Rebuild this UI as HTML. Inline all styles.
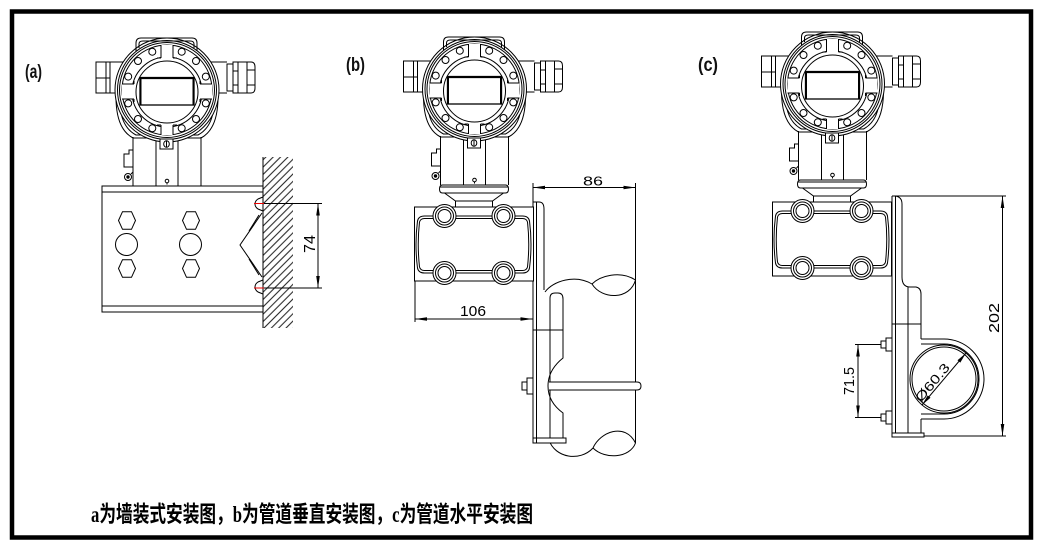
<!DOCTYPE html>
<html><head><meta charset="utf-8"><style>
html,body{margin:0;padding:0;background:#fff;}
svg{display:block;}
</style></head><body>
<svg width="1042" height="549" viewBox="0 0 1042 549" xmlns="http://www.w3.org/2000/svg">
<defs>
<pattern id="hatch" width="5.2" height="10" patternUnits="userSpaceOnUse" patternTransform="rotate(45)">
<line x1="2.6" y1="0" x2="2.6" y2="10" stroke="#000" stroke-width="0.9"/>
</pattern>
<g id="hd" fill="none" stroke="#000" stroke-width="1">
  <rect x="-71" y="-30" width="14" height="31" fill="#fff"/>
  <line x1="-71" y1="-14" x2="-57" y2="-14"/>
  <line x1="-61" y1="-30" x2="-61" y2="1"/>
  <line x1="-57" y1="-30" x2="-43" y2="-30"/>
  <line x1="-57" y1="1" x2="-43" y2="1"/>
  <line x1="43" y1="-30" x2="60" y2="-30"/>
  <line x1="43" y1="1" x2="60" y2="1"/>
  <rect x="60" y="-28" width="6" height="27" fill="#fff"/>
  <path d="M66,-30 H84 Q88,-30 88,-25 V-4 Q88,1 84,1 H66 Z" fill="#fff"/>
  <path d="M71,-30 V1 M80,-30 V1 M66,-21 H71 M66,-7 H71 M80,-22 H88 M80,-7 H88"/>
  <path d="M-51,5 Q-51,37 -34,46 H34 Q51,37 51,5" fill="#fff"/>
  <path d="M-47,12 Q-46,35 -31,43 H31 Q46,35 47,12"/>
  <circle cx="0" cy="-2" r="52" fill="#fff"/>
  <circle cx="0" cy="-2" r="49.5"/>
  <circle cx="0" cy="-2" r="47.5"/>
  <circle cx="0" cy="-2" r="45"/>
  <circle cx="14.7" cy="-40.3" r="3.5"/><circle cx="-14.7" cy="-40.3" r="3.5"/>
  <circle cx="29" cy="-31" r="3.5"/><circle cx="-29" cy="-31" r="3.5"/>
  <circle cx="38.8" cy="-15.4" r="3.5"/><circle cx="-38.8" cy="-15.4" r="3.5"/>
  <circle cx="38.8" cy="11.4" r="3.5"/><circle cx="-38.8" cy="11.4" r="3.5"/>
  <circle cx="29" cy="27" r="3.5"/><circle cx="-29" cy="27" r="3.5"/>
  <circle cx="14.7" cy="36.3" r="3.5"/><circle cx="-14.7" cy="36.3" r="3.5"/>
  <circle cx="0" cy="0" r="35"/>
  <rect x="-6" y="-47" width="12" height="13" fill="#fff" stroke="none"/>
  <rect x="-6" y="33" width="12" height="10" fill="#fff" stroke="none"/>
  <rect x="-45" y="-8" width="12" height="15" fill="#fff" stroke="none"/>
  <rect x="33" y="-8" width="12" height="15" fill="#fff" stroke="none"/>
  <path d="M-6,-47 V-34 M6,-47 V-34 M-6,33 V43 M6,33 V43 M-45,-8 H-33 M-45,7 H-33 M33,-8 H45 M33,7 H45"/>
  <path d="M-10,-34 H-6 M6,-34 H10 M-10,33 H-6 M6,33 H10 M-33,-11 V-8 M-33,7 V10 M33,-11 V-8 M33,7 V10"/>
  <circle cx="0" cy="0" r="31" fill="#fff"/>
  <rect x="-27" y="-14" width="54" height="27" stroke-width="1.3"/>
  <line x1="-27" y1="-14" x2="27" y2="-14" stroke-width="2.2"/>
  <line x1="-26.5" y1="-14" x2="-26.5" y2="13" stroke-width="2"/>
  <line x1="26.5" y1="-14" x2="26.5" y2="13" stroke-width="2"/>
  <path d="M-31,-41 V-49 Q-31,-54 -26,-54 H25 Q30,-54 30,-49 V-41"/>
  <path d="M-28,-44 V-48 Q-28,-51 -24,-51 H23 Q27,-51 27,-48 V-44"/>
  <path d="M-34,45 V94 M34,45 V94 M-11,49 V94 M11,49 V94"/>
  <rect x="-7" y="47" width="13" height="10" fill="#fff"/>
  <ellipse cx="-0.5" cy="52" rx="2.8" ry="3.3"/>
  <line x1="-0.5" y1="48.7" x2="-0.5" y2="55.3"/>
  <path d="M-34,58 H-38 V62 H-43 V75 H-34"/>
  <circle cx="-39" cy="85" r="3.5"/>
  <circle cx="-39" cy="85" r="1.2" fill="#000"/>
  <line x1="-36" y1="82" x2="-34" y2="80"/>
  <circle cx="0" cy="89" r="1.8"/>
  <line x1="0" y1="90.8" x2="0" y2="92.5"/>
</g>
<g id="fl" fill="none" stroke="#000" stroke-width="1">
  <path d="M-32,94 H31 Q34,94 34,98 Q34,102 31,102 H-32 Q-35,102 -35,98 Q-35,94 -32,94 Z" fill="#fff"/>
  <line x1="-35" y1="96" x2="34" y2="96"/>
  <path d="M-30,102 L-19,110 H18 L29,102"/>
  <path d="M-19,110 V116 M18,110 V116"/>
  <rect x="-60" y="116" width="119" height="74" fill="#fff"/>
  <path d="M-50,125 H48 Q54,125 55,130 Q58,153 55,177 Q54,182 48,182 H-50 Q-56,182 -57,177 Q-60,153 -57,130 Q-56,125 -50,125 Z"/>
  <path d="M-50,127.5 H48 Q52,127.5 53,131 Q55.5,153 53,176 Q52,179.5 48,179.5 H-50 Q-54,179.5 -55,176 Q-57.5,153 -55,131 Q-54,127.5 -50,127.5 Z"/>
  <g fill="#fff">
    <circle cx="-30" cy="125" r="11.5"/><circle cx="29" cy="125" r="11.5"/>
    <circle cx="-30" cy="182" r="11.5"/><circle cx="29" cy="182" r="11.5"/>
  </g>
  <circle cx="-30" cy="125" r="9"/><circle cx="29" cy="125" r="9"/>
  <circle cx="-30" cy="182" r="9"/><circle cx="29" cy="182" r="9"/>
  <circle cx="-30" cy="125" r="6.5"/><circle cx="29" cy="125" r="6.5"/>
  <circle cx="-30" cy="182" r="6.5"/><circle cx="29" cy="182" r="6.5"/>
</g>
</defs>

<rect x="0" y="0" width="1042" height="549" fill="#fff"/>
<rect x="12" y="11.5" width="1019" height="526" fill="none" stroke="#000" stroke-width="4.5"/>

<!-- labels -->
<g font-family="'Liberation Sans', sans-serif" font-weight="bold" font-size="19" fill="#111">
  <text x="25" y="78" textLength="17" lengthAdjust="spacingAndGlyphs">(a)</text>
  <text x="346" y="71" textLength="19" lengthAdjust="spacingAndGlyphs">(b)</text>
  <text x="698" y="71" textLength="20" lengthAdjust="spacingAndGlyphs">(c)</text>
</g>

<!-- ===== (a) ===== -->
<g fill="none" stroke="#000" stroke-width="1">
  <rect x="263" y="157" width="30" height="171" fill="url(#hatch)" stroke="none"/>
  <line x1="263" y1="157" x2="263" y2="328"/>
  <rect x="102" y="186" width="161" height="126" fill="#fff"/>
  <line x1="102" y1="192" x2="263" y2="192"/>
  <line x1="102" y1="306" x2="263" y2="306"/>
  <polygon points="118.5,220.5 122.5,211.7 131.5,211.7 135.5,220.5 131.5,229.3 122.5,229.3"/>
  <polygon points="182.5,220.5 186.5,211.7 195.5,211.7 199.5,220.5 195.5,229.3 186.5,229.3"/>
  <polygon points="118.5,268.5 122.5,259.7 131.5,259.7 135.5,268.5 131.5,277.3 122.5,277.3"/>
  <polygon points="182.5,268.5 186.5,259.7 195.5,259.7 199.5,268.5 195.5,277.3 186.5,277.3"/>
  <circle cx="126.5" cy="244.5" r="11"/>
  <circle cx="190.5" cy="244.5" r="11"/>
  <path d="M263,197 L258,199 Q255,201 255,204 Q255,207 258,209 L263,211"/>
  <path d="M263,280 L258,282 Q255,284 255,287 Q255,290 258,292 L263,294"/>
  <path d="M262,213 L240,245 L262,277"/>
  <path d="M259,215 L249,231 M249,259 L259,275"/>
  <line x1="263" y1="203.5" x2="322" y2="203.5"/>
  <line x1="263" y1="288" x2="322" y2="288"/>
  <line x1="318" y1="203.5" x2="318" y2="288"/>
</g>
<line x1="254" y1="203.5" x2="264" y2="203.5" stroke="#e00" stroke-width="1"/>
<line x1="254" y1="288" x2="264" y2="288" stroke="#e00" stroke-width="1"/>
<g fill="#000">
  <polygon points="318,203.5 316.2,215.5 319.8,215.5"/>
  <polygon points="318,288 316.2,276 319.8,276"/>
</g>
<use href="#hd" transform="translate(167,92)"/>

<!-- ===== (b) ===== -->
<g fill="none" stroke="#000" stroke-width="1">
  <!-- pipe -->
  <line x1="635.5" y1="280" x2="635.5" y2="443"/>
  <path d="M545,292 C553,281 575,274 592,284"/>
  <path d="M592,284 C600,276 620,270 635.5,280"/>
  <path d="M592,284 C602,300 630,300 635.5,280"/>
  <path d="M549,440 C555,458 580,462 593,448"/>
  <path d="M593,448 C600,432 625,422 635.5,443"/>
  <path d="M593,448 C605,460 630,458 635.5,443"/>
  <!-- bracket -->
  <line x1="533" y1="202" x2="533" y2="443"/>
  <line x1="536.5" y1="202" x2="536.5" y2="438"/>
  <path d="M533,202 H539 Q544,202 544,209 V290"/>
  <path d="M550,438 V298 Q550,293 555,293 H558 Q563,293 563,299 V358 Q548,370 548,386 Q548,402 563,413 V438"/>
  <line x1="533" y1="330" x2="563" y2="330"/>
  <rect x="533" y="438" width="33" height="5" fill="#fff"/>
  <line x1="536.5" y1="438" x2="536.5" y2="443"/>
  <path d="M549,382 H637 Q641,382 641,386 Q641,390 637,390 H549" fill="#fff"/>
  <rect x="527" y="378" width="6" height="16" fill="#fff"/>
  <rect x="522" y="382" width="5" height="8" fill="#fff"/>
  <!-- dims -->
  <line x1="533" y1="183" x2="533" y2="202"/>
  <line x1="635.5" y1="183" x2="635.5" y2="280"/>
  <line x1="533" y1="187.5" x2="635.5" y2="187.5"/>
  <line x1="415" y1="281" x2="415" y2="322"/>
  <line x1="415" y1="319" x2="533" y2="319"/>
</g>
<g fill="#000">
  <polygon points="533,187.5 545,185.7 545,189.3"/>
  <polygon points="635.5,187.5 623.5,185.7 623.5,189.3"/>
  <polygon points="415,319 427,317.2 427,320.8"/>
  <polygon points="532.5,319 520.5,317.2 520.5,320.8"/>
</g>
<use href="#hd" transform="translate(474.5,91)"/>
<use href="#fl" transform="translate(474.5,91)"/>

<!-- ===== (c) ===== -->
<g fill="none" stroke="#000" stroke-width="1">
  <line x1="892" y1="196" x2="892" y2="437"/>
  <line x1="895.5" y1="196" x2="895.5" y2="433"/>
  <line x1="892" y1="196" x2="1006" y2="196"/>
  <path d="M895.5,196 Q902,197 902,204 V277 Q902,287 910,287 H916 Q921,288 921,294 V339"/>
  <line x1="908" y1="287" x2="908" y2="433"/>
  <line x1="921" y1="419" x2="921" y2="433"/>
  <line x1="892" y1="324" x2="921" y2="324"/>
  <rect x="892" y="433" width="32" height="4" fill="#fff"/>
  <line x1="924" y1="436" x2="1006" y2="436"/>
  <circle cx="944" cy="379" r="34" fill="#fff"/>
  <circle cx="944" cy="379" r="32"/>
  <path d="M921,339 H944 A40,40 0 0 1 944,419 H921"/>
  <path d="M921,344 H944 A35,35 0 0 1 944,414 H921"/>
  <rect x="886" y="338" width="6" height="13" fill="#fff"/>
  <rect x="881" y="341" width="5" height="7" fill="#fff"/>
  <rect x="886" y="411" width="6" height="13" fill="#fff"/>
  <rect x="881" y="414" width="5" height="7" fill="#fff"/>
  <line x1="855" y1="344.5" x2="881" y2="344.5"/>
  <line x1="855" y1="417.5" x2="881" y2="417.5"/>
  <line x1="858" y1="344.5" x2="858" y2="417.5"/>
  <line x1="1002.5" y1="196" x2="1002.5" y2="436"/>
  <line x1="922" y1="405" x2="966" y2="353"/>
</g>
<g fill="#000">
  <polygon points="858,344.5 856.2,356.5 859.8,356.5"/>
  <polygon points="858,417.5 856.2,405.5 859.8,405.5"/>
  <polygon points="1002.5,196 1000.7,208 1004.3,208"/>
  <polygon points="1002.5,436 1000.7,424 1004.3,424"/>
  <polygon points="966,353 960.3,362.6 957.5,360.2"/>
  <polygon points="922,405 930.5,397.8 927.7,395.4"/>
</g>
<use href="#hd" transform="translate(832.5,86)"/>
<use href="#fl" transform="translate(832.5,86)"/>

<!-- dimension texts -->
<g font-family="'Liberation Sans', sans-serif" fill="#000">
  <text x="583" y="185.5" font-size="13" textLength="20" lengthAdjust="spacingAndGlyphs">86</text>
  <text x="460" y="316" font-size="15" textLength="26" lengthAdjust="spacingAndGlyphs">106</text>
  <text transform="translate(315,253) rotate(-90)" font-size="16" textLength="18" lengthAdjust="spacingAndGlyphs">74</text>
  <text transform="translate(854,395) rotate(-90)" font-size="15" textLength="28" lengthAdjust="spacingAndGlyphs">71.5</text>
  <text transform="translate(999,333) rotate(-90)" font-size="15" textLength="30" lengthAdjust="spacingAndGlyphs">202</text>
  <text transform="translate(921,403) rotate(-50)" font-size="13" textLength="46" lengthAdjust="spacingAndGlyphs">Ø60.3</text>
</g>

<!-- caption -->
<g transform="translate(91,522) scale(1,1.2)">
  <text x="0" y="0" font-family="'Liberation Serif', 'Noto Sans CJK SC', sans-serif" font-weight="bold" font-size="19" fill="#000" textLength="442" lengthAdjust="spacingAndGlyphs">a为墙装式安装图，b为管道垂直安装图，c为管道水平安装图</text>
</g>
</svg>
</body></html>
